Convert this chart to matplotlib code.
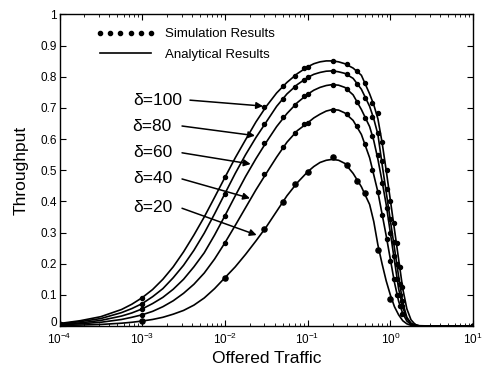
import numpy as np
import matplotlib
matplotlib.use("Agg")
import matplotlib.pyplot as plt
import matplotlib.transforms as mtransforms
from matplotlib.lines import Line2D

plt.rcParams['font.family'] = ['Liberation Sans', 'DejaVu Sans']
plt.rcParams['mathtext.fontset'] = 'custom'
plt.rcParams['mathtext.rm'] = 'Liberation Sans'
plt.rcParams['mathtext.it'] = 'Liberation Sans:italic'
plt.rcParams['mathtext.bf'] = 'Liberation Sans:bold'

# ---------------- data ----------------
deltas = [100, 80, 60, 40, 20]

# analytical curves: offered traffic (x) and throughput
ana_G = [1e-4, 1.778e-4, 3.162e-4, 5.623e-4, 7.499e-4, 1e-3, 1.334e-3, 1.778e-3,
         2.371e-3, 3.162e-3, 4.217e-3, 5.623e-3, 7.499e-3, 1e-2, 1.334e-2,
         1.778e-2, 2.371e-2, 3.162e-2, 4.217e-2, 5.623e-2, 7.499e-2, 0.1,
         0.1189, 0.1413, 0.1679, 0.1995, 0.2371, 0.2818, 0.3548, 0.4467, 0.5623,
         0.631, 0.7079, 0.7943, 0.8913, 1.0, 1.122, 1.259, 1.413, 1.585, 1.778,
         1.995, 2.239, 3.162, 10.0]
ana_100 = [0.008, 0.017, 0.030, 0.053, 0.070, 0.091, 0.117, 0.150,
           0.190, 0.238, 0.292, 0.350, 0.413, 0.477, 0.540,
           0.598, 0.655, 0.705, 0.748, 0.782, 0.810, 0.832,
           0.842, 0.848, 0.851, 0.851, 0.848, 0.842, 0.828, 0.805, 0.745,
           0.710, 0.665, 0.590, 0.500, 0.405, 0.310, 0.215, 0.120, 0.055, 0.020,
           0.005, 0.001, 0.0, 0.0]
ana_80 = [0.007, 0.014, 0.024, 0.043, 0.056, 0.072, 0.094, 0.120,
          0.155, 0.195, 0.243, 0.298, 0.360, 0.425, 0.490,
          0.550, 0.605, 0.655, 0.705, 0.745, 0.775, 0.798,
          0.808, 0.814, 0.818, 0.819, 0.816, 0.811, 0.795, 0.760, 0.705,
          0.665, 0.615, 0.520, 0.430, 0.340, 0.250, 0.160, 0.075, 0.028, 0.009,
          0.002, 0.0005, 0.0, 0.0]
ana_60 = [0.006, 0.010, 0.018, 0.032, 0.042, 0.055, 0.072, 0.092,
          0.118, 0.150, 0.190, 0.235, 0.292, 0.354, 0.418,
          0.480, 0.537, 0.590, 0.640, 0.682, 0.717, 0.744,
          0.757, 0.766, 0.772, 0.775, 0.773, 0.766, 0.742, 0.695, 0.640,
          0.595, 0.535, 0.465, 0.390, 0.300, 0.210, 0.120, 0.060, 0.024, 0.008,
          0.002, 0.0005, 0.0, 0.0]
ana_40 = [0.004, 0.007, 0.012, 0.021, 0.028, 0.036, 0.047, 0.062,
          0.081, 0.105, 0.134, 0.170, 0.215, 0.267, 0.323,
          0.380, 0.437, 0.490, 0.542, 0.590, 0.627, 0.652,
          0.668, 0.680, 0.690, 0.695, 0.693, 0.684, 0.660, 0.615, 0.540,
          0.485, 0.430, 0.360, 0.290, 0.215, 0.140, 0.080, 0.040, 0.016, 0.005,
          0.001, 0.0003, 0.0, 0.0]
ana_20 = [0.002, 0.003, 0.005, 0.009, 0.012, 0.016, 0.021, 0.028,
          0.038, 0.050, 0.067, 0.090, 0.120, 0.155, 0.190,
          0.230, 0.273, 0.318, 0.368, 0.418, 0.460, 0.495,
          0.512, 0.525, 0.532, 0.535, 0.532, 0.522, 0.490, 0.447, 0.390,
          0.335, 0.260, 0.200, 0.145, 0.100, 0.062, 0.036, 0.017, 0.007, 0.002,
          0.0005, 0.0001, 0.0, 0.0]

# simulation results
sim_G = [1e-4, 1e-3, 1e-2, 3e-2, 5e-2, 7e-2, 9e-2, 0.1, 0.2, 0.3, 0.4, 0.5,
         0.6, 0.7, 0.8, 0.9, 1.0, 1.1, 1.2, 1.3, 1.4, 10.0]
nan = np.nan
sim_100 = [0.008, 0.091, 0.477, 0.704, 0.771, 0.804, 0.827, 0.832, 0.851, 0.841,
           0.820, 0.779, 0.715, 0.685, 0.590, 0.500, 0.400, 0.330, 0.265, 0.190,
           0.125, 0.0]
sim_80 = [0.007, 0.072, 0.425, 0.650, 0.730, 0.768, 0.789, 0.798, 0.819, 0.809,
          0.776, 0.733, 0.672, 0.621, 0.530, 0.440, 0.345, 0.270, 0.200, 0.135,
          0.080, 0.0]
sim_60 = [0.006, 0.055, 0.354, 0.586, 0.670, 0.711, 0.738, 0.744, 0.775, 0.760,
          0.718, 0.667, 0.610, 0.550, 0.460, 0.380, 0.300, 0.225, 0.150, 0.100,
          0.065, 0.0]
sim_40 = [0.005, 0.036, 0.267, 0.487, 0.575, 0.621, 0.650, 0.652, 0.695, 0.680,
          0.642, 0.583, 0.500, 0.430, 0.355, 0.280, 0.210, 0.150, 0.100, 0.065,
          0.040, 0.0]
sim_20 = [0.004, 0.016, 0.155, 0.312, 0.399, 0.455, nan, 0.495, 0.541, 0.517,
          0.466, 0.426, nan, 0.244, nan, nan, 0.086, nan, nan, nan, nan, 0.0]

labels = ["δ=100", "δ=80", "δ=60", "δ=40", "δ=20"]
label_pos = [(7.75e-4, 0.725), (7.55e-4, 0.642), (7.7e-4, 0.556), (7.7e-4, 0.472), (7.7e-4, 0.382)]
arrow_start = [(0.00378, 0.725), (0.00303, 0.642), (0.00303, 0.556), (0.00303, 0.472), (0.00303, 0.378)]
arrow_tip = [(0.0289, 0.706), (0.0231, 0.611), (0.0205, 0.520), (0.0201, 0.410), (0.0242, 0.292)]

ana = [ana_100, ana_80, ana_60, ana_40, ana_20]
sim = [sim_100, sim_80, sim_60, sim_40, sim_20]

# ---------------- figure ----------------
fig = plt.figure(figsize=(4.85, 3.67), dpi=100)
ax = fig.add_axes([0.1227, 0.1117, 0.8526, 0.8488])

for i, d in enumerate(deltas):
    ax.plot(ana_G, ana[i], color='black', lw=1.2, solid_joinstyle='round')
    ms = 3.7 if d == 20 else 2.9
    ax.plot(sim_G, sim[i], ls='none', marker='o', color='black', ms=ms)

for lab, (lx, ly), (sx, sy), (tx, ty) in zip(labels, label_pos, arrow_start, arrow_tip):
    ax.annotate("", xy=(tx, ty), xytext=(sx, sy),
                arrowprops=dict(arrowstyle='-|>', color='black', lw=1.1,
                                mutation_scale=10, shrinkA=0, shrinkB=0))
    ax.text(lx, ly, lab, ha='left', va='center', fontsize=12.5)

ax.set_xscale('log')
ax.set_xlim(1e-4, 10)
ax.set_ylim(0, 1)
ax.set_yticks(np.arange(0, 1.01, 0.1))
ax.set_yticklabels(["0", "0.1", "0.2", "0.3", "0.4", "0.5", "0.6", "0.7", "0.8", "0.9", "1"])
ax.tick_params(which='both', direction='in', top=True, right=True, labelsize=8.5)
ax.tick_params(axis='y', pad=2)
ax.tick_params(axis='x', pad=4)
ax.tick_params(which='major', length=4, width=0.8)
ax.tick_params(which='minor', length=2, width=0.6)
for sp in ax.spines.values():
    sp.set_linewidth(1.0)

# lift the "0" y tick label slightly so it clears the 10^-4 label
zero_lab = ax.yaxis.get_major_ticks()[0].label1
zero_lab.set_transform(zero_lab.get_transform() +
                       mtransforms.ScaledTranslation(0, 3 / 72, fig.dpi_scale_trans))

ax.set_xlabel("Offered Traffic", fontsize=12.5, labelpad=3)
ax.set_ylabel("Throughput", fontsize=12.5, labelpad=8)

handles = [Line2D([], [], ls='none', marker='o', color='black', ms=3.0),
           Line2D([], [], color='black', lw=1.2)]
ax.legend(handles, ["Simulation Results", "Analytical Results"], numpoints=6,
          frameon=False, loc='upper left', bbox_to_anchor=(0.088, 0.956),
          fontsize=9.5, handlelength=4.5, handletextpad=0.7, labelspacing=0.6,
          borderpad=0, borderaxespad=0)

fig.savefig("out.png", dpi=100)
